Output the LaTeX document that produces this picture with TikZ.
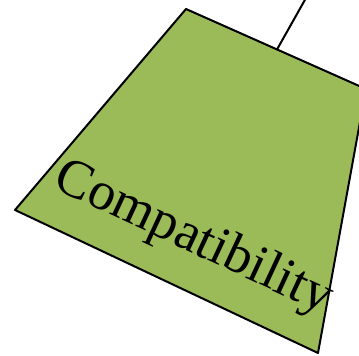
\documentclass[tikz,border=0pt]{standalone}
\usepackage{fontspec}
\setmainfont{Liberation Serif}
\usetikzlibrary{calc}
\definecolor{leafgreen}{HTML}{9BBB59}
\begin{document}
\begin{tikzpicture}[x=1pt, y=1pt, line join=round]
	\clip (0, 0) rectangle (359, 356);
	\coordinate (top) at (186, 347);
	\coordinate (left) at (15, 146);
	\coordinate (bottom) at (318, 3);
	\coordinate (corner) at (366, 267);
	\draw[line width=2pt, fill=leafgreen] (top) -- (corner) -- (bottom) -- (left) -- cycle;
	\coordinate (stem) at ($(top)!0.5056!(corner)$);
	\coordinate (stemend) at (306, 358);
	\draw[line width=2pt] (stem) -- (stemend);
	\node[rotate=-25, font=\fontsize{54}{62}\selectfont] (label) at (193, 117) {Compatibility};
\end{tikzpicture}
\end{document}
